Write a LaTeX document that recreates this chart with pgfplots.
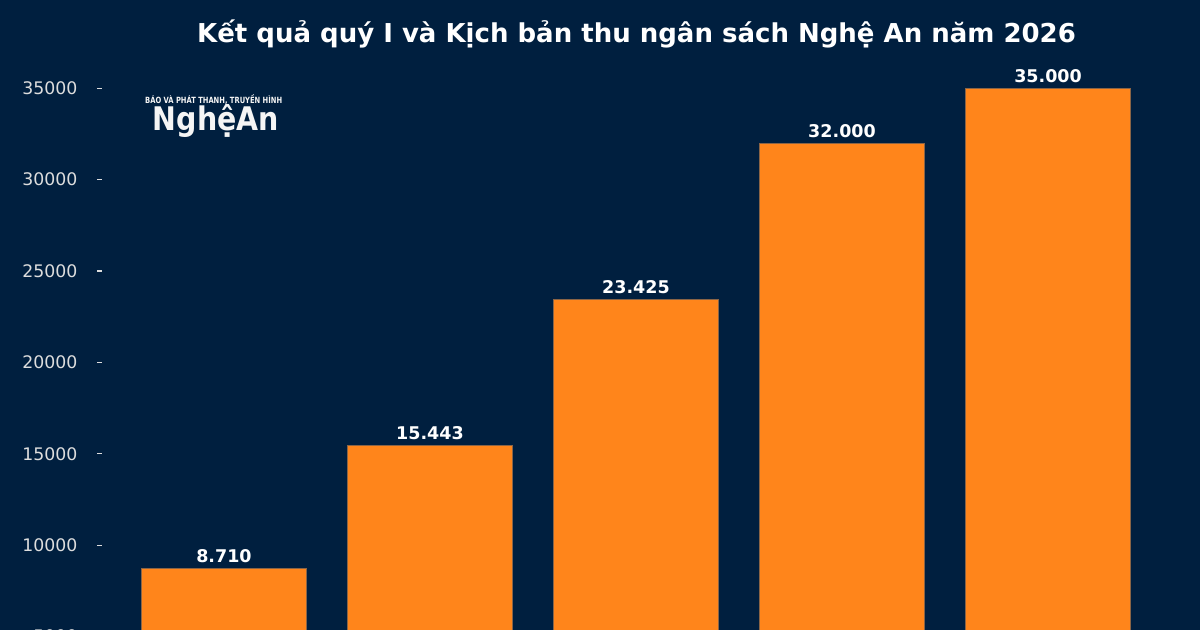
\documentclass[border=0pt]{standalone}
\usepackage{pgfplots}
\pgfplotsset{compat=1.18}
\usepackage{fontspec}
\setmainfont{DejaVu Sans}
\definecolor{bgnavy}{HTML}{001F3F}
\definecolor{barorange}{HTML}{FF851B}
\definecolor{tickgrey}{HTML}{DDDDDD}
\definecolor{baredge}{HTML}{8A6446}
\begin{document}
\begin{tikzpicture}
  \fill[bgnavy] (0,0) rectangle (1200bp,630bp);
  \begin{scope}
  \clip (0,0) rectangle (1200bp,630bp);
  \begin{axis}[
      at={(102bp,-98bp)}, anchor=south west,
      scale only axis, width=1068bp, height=671.8bp,
      xmin=-0.592, xmax=4.592, ymin=0, ymax=36750,
      hide x axis,
      axis y line*=left,
      y axis line style={draw=none},
      ytick={0,5000,...,35000},
      scaled y ticks=false,
      tick align=outside, major tick length=5bp,
      ytick style={draw=tickgrey, line width=1.1bp},
      yticklabel style={font=\fontsize{17.3bp}{20bp}\selectfont, text=tickgrey, xshift=-16bp},
      /pgf/number format/1000 sep={},
      /pgf/number format/assume math mode=true,
      ybar, bar width=0.8, bar shift=0pt,
      point meta=explicit symbolic,
      nodes near coords,
      nodes near coords style={anchor=base, yshift=6bp, inner sep=0pt, text=white,
        font=\bfseries\fontsize{17.5bp}{20bp}\selectfont},
    ]
    % thu ngan sach (ty dong)
    \addplot[fill=barorange, draw=baredge, line width=0.6bp] coordinates {
      (0,8710)  [8.710]
      (1,15443) [15.443]
      (2,23425) [23.425]
      (3,32000) [32.000]
      (4,35000) [35.000]
    };
  \end{axis}
  \end{scope}
  % tieu de
  \node[anchor=base, text=white, inner sep=0pt,
        font=\bfseries\fontsize{26bp}{30bp}\selectfont]
    at (636.5bp,587.7bp) {Kết quả quý I và Kịch bản thu ngân sách Nghệ An năm 2026};
  % logo bao
  \node[anchor=base west, inner sep=0pt, text=white!92!gray] at (145bp,526.7bp)
    {\resizebox{137bp}{9bp}{\bfseries BÁO VÀ PHÁT THANH, TRUYỀN HÌNH}};
  \node[anchor=base west, inner sep=0pt, text=white!92!gray] at (152.7bp,499bp)
    {\resizebox{126bp}{26bp}{\bfseries NghệAn}};
  \pgfresetboundingbox
  \path[use as bounding box] (0,0) rectangle (1200bp,630bp);
\end{tikzpicture}
\end{document}
